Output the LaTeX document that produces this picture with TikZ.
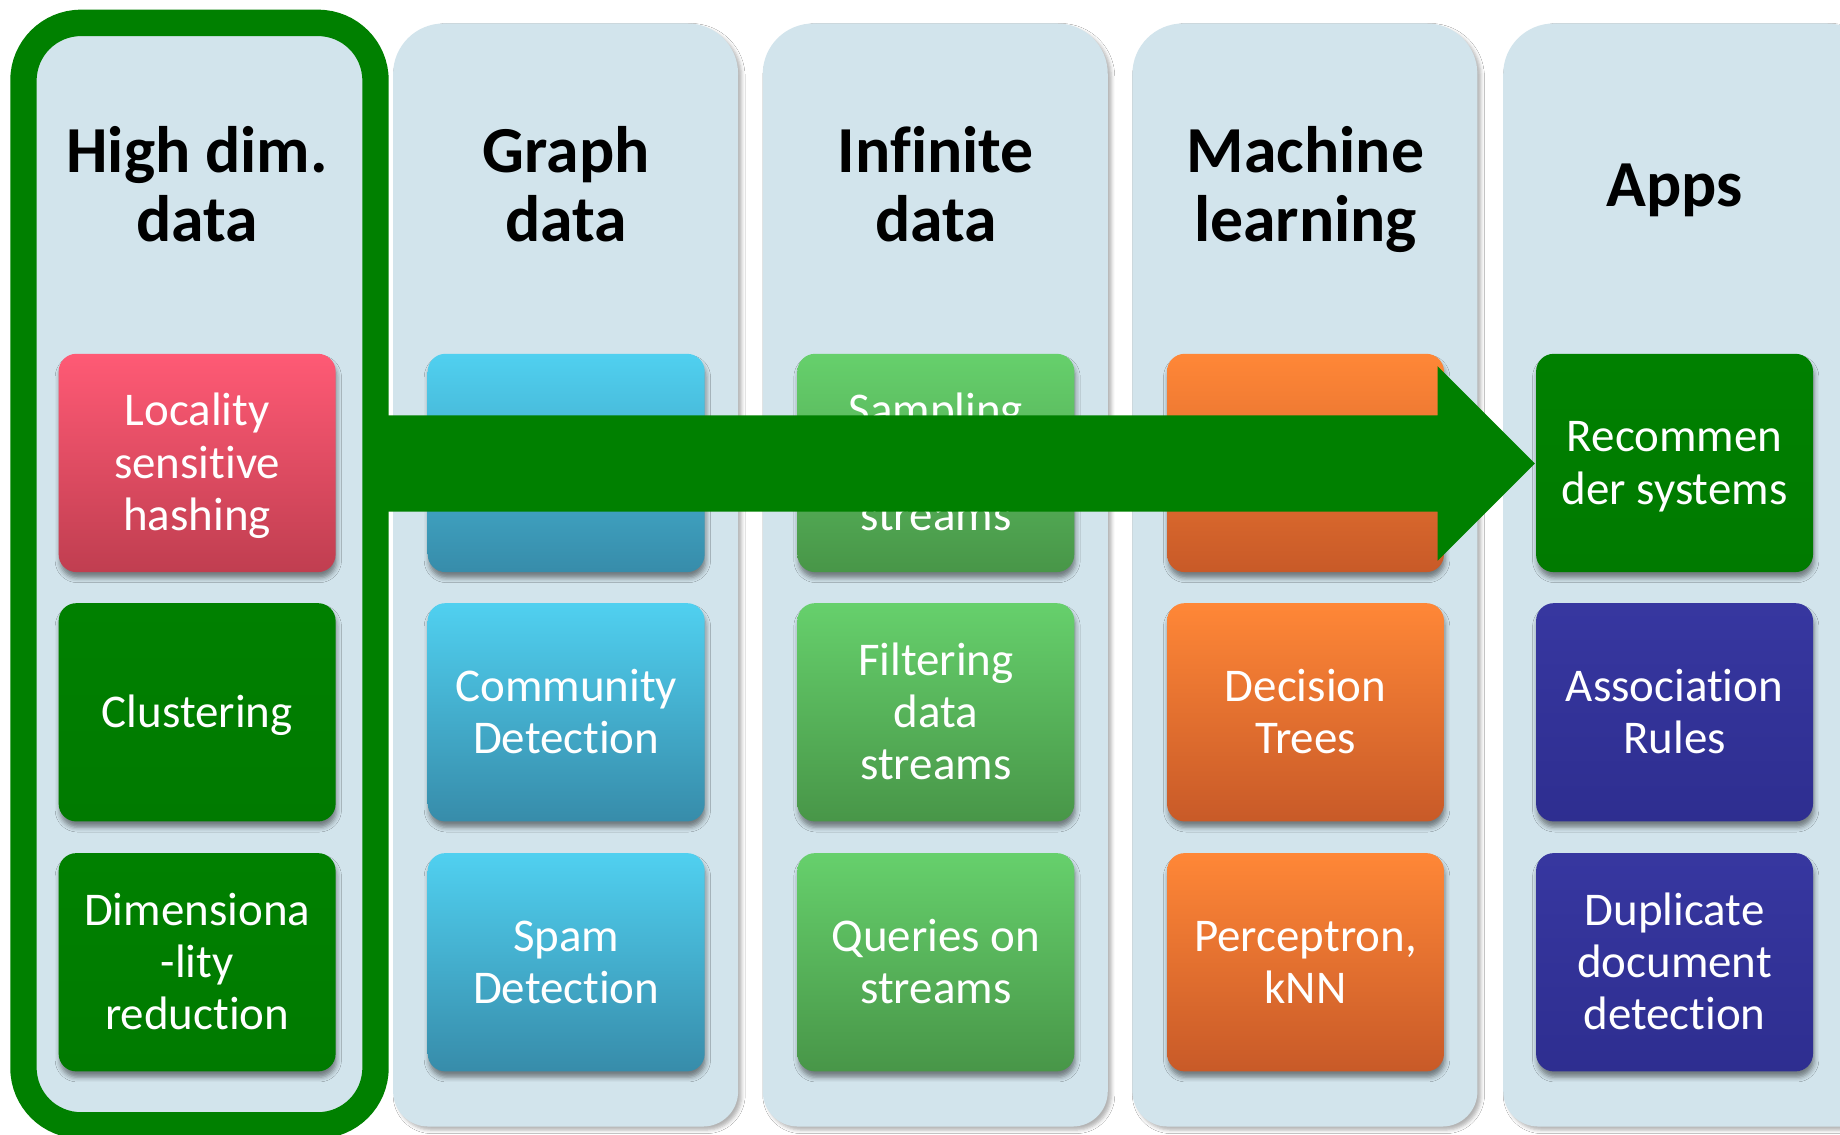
\documentclass[tikz,border=0pt]{standalone}
\usepackage{fontspec}
\setmainfont{Carlito}[Ligatures=NoCommon]
\usetikzlibrary{shadows.blur}
\definecolor{colbg}{HTML}{D2E4EC}
\definecolor{dgreen}{HTML}{008000}
\definecolor{dgreenB}{HTML}{007A00}
\definecolor{pinkT}{HTML}{FF5A75}
\definecolor{pinkB}{HTML}{C03E50}
\definecolor{blueT}{HTML}{50D0F0}
\definecolor{blueB}{HTML}{378CAA}
\definecolor{lgreenT}{HTML}{66D06C}
\definecolor{lgreenB}{HTML}{489648}
\definecolor{orangeT}{HTML}{FF8737}
\definecolor{orangeB}{HTML}{C85A28}
\definecolor{navyT}{HTML}{3737A0}
\definecolor{navyB}{HTML}{2E2E90}
\newcommand\bs{\rule[-9.35pt]{0pt}{44.5pt}}
\tikzset{
  colshape/.style={fill=colbg, blur shadow={shadow xshift=3pt, shadow yshift=-3pt, shadow blur radius=3pt, shadow opacity=30}},
  box/.style={rounded corners=15pt, minimum width=236pt, minimum height=186pt, inner sep=0pt,
    align=center, text=white, font=\fontsize{40}{44.5}\selectfont,
    blur shadow={shadow xshift=1pt, shadow yshift=-5pt, shadow blur radius=4pt, shadow opacity=45}},
  pinkbox/.style={box, top color=pinkT, bottom color=pinkB},
  greenbox/.style={box, top color=dgreen, bottom color=dgreenB},
  bluebox/.style={box, top color=blueT, bottom color=blueB},
  lgreenbox/.style={box, top color=lgreenT, bottom color=lgreenB},
  orangebox/.style={box, top color=orangeT, bottom color=orangeB},
  navybox/.style={box, top color=navyT, bottom color=navyB},
  coltitle/.style={align=center, inner sep=0pt, font=\fontsize{56}{59}\selectfont\bfseries},
}
\newcommand\colpath[2]{%
  \path[colshape] (#1,400) [rounded corners=43pt] -- (#1,20) -- (#2,20) -- (#2,400)
    [rounded corners=30pt] -- (#2,960) -- (#1,960) -- cycle;}
\begin{document}
\begin{tikzpicture}[x=1pt, y=-1pt]
\useasboundingbox (0,0) rectangle (1568,967);
\clip (0,0) rectangle (1568,967);
\fill[white] (0,0) rectangle (1568,967);
% columns
\colpath{335}{629}
\colpath{650}{944}
\colpath{965}{1259}
\colpath{1281}{1600}
\path[fill=colbg, draw=dgreen, line width=22.5pt, rounded corners=49pt] (20,19.5) rectangle (320,959);
% titles
\node[coltitle] (t1) at (168,164.5) {\strut High dim.\\\strut data};
\node[coltitle] (t2) at (482.5,164.5) {\strut Graph\\\strut data};
\node[coltitle] (t3) at (797.5,164.5) {\strut Infinite\\\strut data};
\node[coltitle] (t4) at (1112.5,164.5) {\strut Machine\\\strut learning};
\node[coltitle] (t5) at (1427,164.2) {\strut Apps};
% boxes
\node[pinkbox] (lsh) at (168,394.5) {\bs Locality\\\bs sensitive\\\bs hashing};
\node[greenbox] (clu) at (168,607) {\bs Clustering};
\node[greenbox] (dim) at (168,820) {\bs Dimensiona\\\bs -lity\\\bs reduction};
\node[bluebox] (g1) at (482.5,394.5) {};
\node[bluebox] (com) at (482.5,607) {\bs Community\\\bs Detection};
\node[bluebox] (spam) at (482.5,820) {\bs Spam\\\bs Detection};
\node[lgreenbox] (samp) at (797.5,394.5) {\bs Sampling\\\bs data\\\bs streams};
\node[lgreenbox] (filt) at (797.5,607) {\bs Filtering\\\bs data\\\bs streams};
\node[lgreenbox] (quer) at (797.5,820) {\bs Queries on\\\bs streams};
\node[orangebox] (m1) at (1112.5,394.5) {};
\node[orangebox] (dt) at (1112.5,607) {\bs Decision\\\bs Trees};
\node[orangebox] (perc) at (1112.5,820) {\bs Perceptron,\\\bs kNN};
\node[greenbox] (rec) at (1427,394.5) {\bs Recommen\\\bs der systems};
\node[navybox] (assoc) at (1427,607) {\bs Association\\\bs Rules};
\node[navybox] (dup) at (1427,820) {\bs Duplicate\\\bs document\\\bs detection};
% big arrow
\fill[dgreen] (320,354) -- (1225,354) -- (1225,312) -- (1308,395) -- (1225,478) -- (1225,436) -- (320,436) -- cycle;
\end{tikzpicture}
\end{document}
